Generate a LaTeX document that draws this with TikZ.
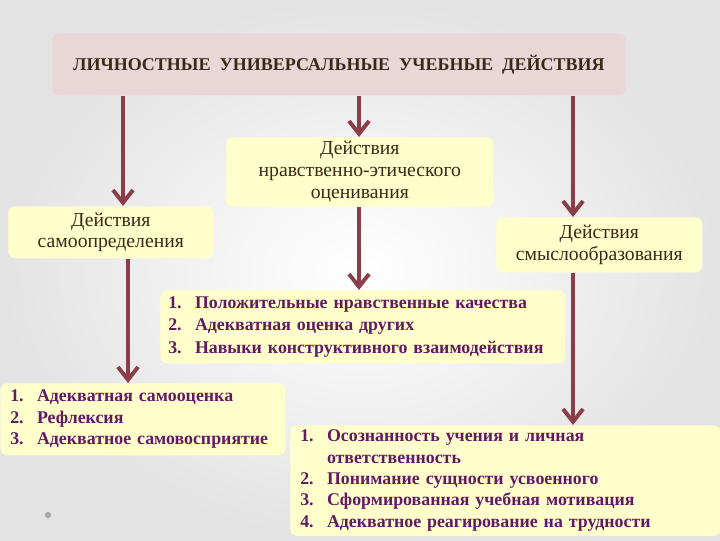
\documentclass[tikz,border=0pt]{standalone}
\usepackage{fontspec}
\setmainfont{Liberation Serif}
\usepackage{xcolor}
\usepackage{tikz}
\usetikzlibrary{positioning,arrows.meta}

\definecolor{pinkbox}{RGB}{234,214,214}
\definecolor{yellowbox}{RGB}{255,255,204}
\definecolor{arrowcol}{RGB}{140,62,72}
\definecolor{labelcol}{RGB}{60,40,25}
\definecolor{listcol}{RGB}{100,25,100}

\newcommand{\itm}[2]{\makebox[19pt][l]{#1}#2}

\tikzset{
  uudbox/.style={rectangle, rounded corners=5pt, fill=pinkbox, anchor=north west, inner sep=0pt},
  actbox/.style={rectangle, rounded corners=5pt, fill=yellowbox, anchor=north west, inner sep=0pt, align=center, text=labelcol, font=\fontsize{14}{15.5}\selectfont},
  listbox/.style={rectangle, rounded corners=5pt, fill=yellowbox, anchor=north west, align=left, text=listcol, font=\bfseries\fontsize{12.7}{15.2}\selectfont},
  arr/.style={draw=arrowcol, line width=2.8pt, -{Straight Barb[length=3.2mm,width=5mm]}}
}

\begin{document}
\begin{tikzpicture}[x=0.025cm, y=-0.025cm]
		\useasboundingbox (0,0) rectangle (720,540);
		\shade[inner color=white, outer color=gray!22] (0,0) rectangle (720,540);
		\node[uudbox, minimum width=14.325cm, minimum height=1.55cm, text=labelcol, font=\bfseries\fontsize{12.8}{14}\selectfont] (top) at (52,33) {ЛИЧНОСТНЫЕ\ \ УНИВЕРСАЛЬНЫЕ\ \ УЧЕБНЫЕ\ \ ДЕЙСТВИЯ};
		\node[actbox, minimum width=6.675cm, minimum height=1.725cm] (nrav) at (226,137) {Действия\\нравственно-этического\\оценивания};
		\node[actbox, minimum width=5.125cm, minimum height=1.3cm] (samo) at (8,206) {Действия\\самоопределения};
		\node[actbox, minimum width=5.15cm, minimum height=1.375cm] (smysl) at (496,217) {Действия\\смыслообразования};
		\node[listbox, inner xsep=0.2cm, text width=9.725cm, minimum height=1.825cm, font=\bfseries\fontsize{12.7}{16}\selectfont] (nravList) at (160,290) {\itm{1.}{Положительные нравственные качества}\\\itm{2.}{Адекватная оценка других}\\\itm{3.}{Навыки конструктивного взаимодействия}};
		\node[listbox, inner xsep=0.25cm, text width=6.625cm, minimum height=1.8cm] (samoList) at (0,383) {\itm{1.}{Адекватная самооценка}\\\itm{2.}{Рефлексия}\\\itm{3.}{Адекватное самовосприятие}};
		\node[listbox, inner xsep=0.25cm, text width=10.25cm, minimum height=2.625cm] (smyslList) at (290,425) {\itm{1.}{Осознанность учения и личная}\\\itm{}{ответственность}\\\itm{2.}{Понимание сущности усвоенного}\\\itm{3.}{Сформированная учебная мотивация}\\\itm{4.}{Адекватное реагирование на трудности}};
		\coordinate (c1) at (123,0);
		\coordinate (c2) at (359,0);
		\coordinate (c3) at (573,0);
		\coordinate (c4) at (128,0);
		\draw[arr] (top.south -| c1) -- (samo.north -| c1);
		\draw[arr] (top.south -| c2) -- (nrav.north -| c2);
		\draw[arr] (top.south -| c3) -- (smysl.north -| c3);
		\draw[arr] (samo.south -| c4) -- (samoList.north -| c4);
		\draw[arr] (nrav.south -| c2) -- (nravList.north -| c2);
		\draw[arr] (smysl.south -| c3) -- (smyslList.north -| c3);
		\fill[gray!70] (48,515) circle (2.2pt);
	\end{tikzpicture}
\end{document}
